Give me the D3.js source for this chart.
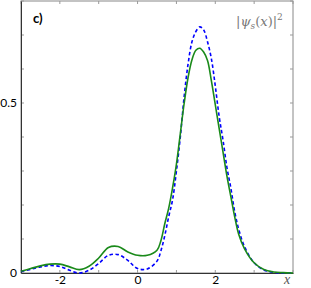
<!DOCTYPE html>
<html>
<head>
<meta charset="utf-8">
<script src="https://cdn.jsdelivr.net/npm/d3@7"></script>
<style>
  body { margin: 0; background: #fff; }
  .tick text { font-family: Lato, "Open Sans", sans-serif; font-size: 12px; fill: #000; }
</style>
</head>
<body>
<div id="chart"></div>
<script>
// Data
const xs = [-3, -2.75, -2.5, -2.25, -2, -1.75, -1.5, -1.25, -1, -0.75, -0.5, -0.25, 0, 0.25, 0.5,
  0.6, 0.7, 0.8, 0.9, 1.0, 1.1, 1.2, 1.3, 1.4, 1.5, 1.6, 1.7, 1.8, 1.9, 2.0, 2.1, 2.2, 2.3, 2.4,
  2.5, 2.6, 2.75, 3.0, 3.25, 3.5, 3.75, 4];
const greenVals = [0.005, 0.013, 0.021, 0.026, 0.026, 0.018, 0.010, 0.020, 0.044, 0.075, 0.078, 0.062, 0.052, 0.052, 0.067,
  0.095, 0.145, 0.19, 0.25, 0.32, 0.41, 0.50, 0.575, 0.627, 0.655, 0.661, 0.650, 0.625, 0.565, 0.495, 0.425, 0.355, 0.285, 0.225,
  0.165, 0.115, 0.072, 0.030, 0.010, 0.003, 0.001, 0.0];
const blueVals = [0.004, 0.011, 0.018, 0.022, 0.019, 0.008, 0.0, 0.008, 0.028, 0.052, 0.054, 0.037, 0.013, 0.012, 0.035,
  0.065, 0.11, 0.165, 0.215, 0.30, 0.40, 0.52, 0.615, 0.68, 0.71, 0.724, 0.715, 0.68, 0.63, 0.55, 0.46, 0.39, 0.31, 0.25,
  0.18, 0.13, 0.078, 0.030, 0.009, 0.002, 0.0, 0.0];
const xTickLabels = [-2, 0, 2];
const yTickLabels = [0, 0.5];

const svgWidth = 311;
const svgHeight = 288;
const margin = { top: 1, right: 18, bottom: 15, left: 21 };
const width = svgWidth - margin.left - margin.right;
const height = svgHeight - margin.top - margin.bottom;

const svg = d3.select("#chart")
  .append("svg")
  .attr("width", svgWidth)
  .attr("height", svgHeight);

const g = svg.append("g")
  .attr("transform", `translate(${margin.left}, ${margin.top})`);

const x = d3.scaleLinear().domain([-3, 4]).range([0, width]);
const y = d3.scaleLinear().domain([0, 0.8]).range([height, 0]);

// frame: gray top/right, dark left/bottom
g.append("rect")
  .attr("width", width).attr("height", height)
  .attr("fill", "none").attr("stroke", "#888").attr("stroke-width", 1);

const xTicks = d3.range(-3, 4.01, 1);
const yTicks = d3.range(0, 0.81, 0.1);

// inward tick marks on all four sides
g.selectAll(".tb").data(xTicks).enter().append("line")
  .attr("x1", d => x(d)).attr("x2", d => x(d))
  .attr("y1", height).attr("y2", height - 3)
  .attr("stroke", "#999");
g.selectAll(".tt").data(xTicks).enter().append("line")
  .attr("x1", d => x(d)).attr("x2", d => x(d))
  .attr("y1", 0).attr("y2", 3)
  .attr("stroke", "#999");
g.selectAll(".tl").data(yTicks).enter().append("line")
  .attr("x1", 0).attr("x2", 3)
  .attr("y1", d => y(d)).attr("y2", d => y(d))
  .attr("stroke", "#999");
g.selectAll(".tr").data(yTicks).enter().append("line")
  .attr("x1", width).attr("x2", width - 3)
  .attr("y1", d => y(d)).attr("y2", d => y(d))
  .attr("stroke", "#999");

const bottomAxis = d3.axisBottom(x).tickValues(xTickLabels).tickSize(0).tickPadding(2)
  .tickFormat(d => String(d));
const leftAxis = d3.axisLeft(y).tickValues(yTickLabels).tickSize(0).tickPadding(4)
  .tickFormat(d => d === 0 ? "0" : d3.format(".1f")(d));

const bx = g.append("g").attr("transform", `translate(0, ${height})`).call(bottomAxis);
bx.select(".domain").attr("stroke", "#333");
bx.selectAll("text").attr("dy", "0.71em");
const ly = g.append("g").call(leftAxis);
ly.select(".domain").attr("stroke", "#333");

// curves
const pts = (vals) => xs.map((d, i) => [d, vals[i]]);
const line = d3.line()
  .x(d => x(d[0]))
  .y(d => y(d[1]))
  .curve(d3.curveCatmullRom.alpha(0.5));

g.append("path")
  .datum(pts(blueVals))
  .attr("d", line)
  .attr("fill", "none")
  .attr("stroke", "#0000ff")
  .attr("stroke-width", 1.6)
  .attr("stroke-dasharray", "3.5,2.5");

g.append("path")
  .datum(pts(greenVals))
  .attr("d", line)
  .attr("fill", "none")
  .attr("stroke", "#1a8a1a")
  .attr("stroke-width", 1.6);

// labels
svg.append("text")
  .attr("x", 33).attr("y", 23)
  .style("font-family", "Lato, sans-serif")
  .style("font-weight", "bold")
  .style("font-size", "13px")
  .text("c)");

const lab = svg.append("text")
  .attr("x", 236).attr("y", 26)
  .style("font-family", "'DejaVu Serif', serif")
  .style("font-size", "13px")
  .attr("fill", "#777");
lab.append("tspan").text("|");
lab.append("tspan").style("font-style", "italic").text("ψ");
lab.append("tspan").attr("dy", 3).style("font-size", "9px").style("font-style", "italic").text("s");
lab.append("tspan").attr("dy", -3).text("(");
lab.append("tspan").style("font-style", "italic").text("x");
lab.append("tspan").text(")|");
lab.append("tspan").attr("dy", -6).style("font-size", "9px").text("2");

svg.append("text")
  .attr("x", 287).attr("y", 284)
  .attr("text-anchor", "middle")
  .style("font-family", "'Liberation Serif', serif")
  .style("font-style", "italic")
  .style("font-size", "14px")
  .attr("fill", "#555")
  .text("x");
</script>
</body>
</html>
